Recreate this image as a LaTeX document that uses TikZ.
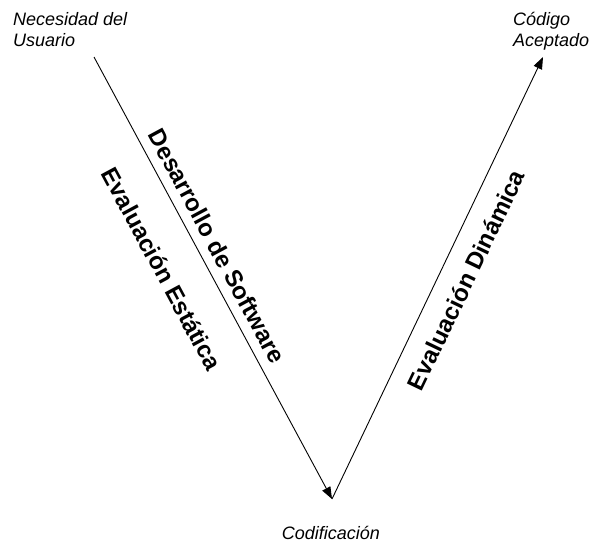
\documentclass[tikz,border=0pt]{standalone}
\usepackage{fontspec}
\setmainfont{Liberation Sans}
\usetikzlibrary{arrows.meta,calc}
\tikzstyle{etiq} = [inner sep=0pt,
                    align=left,
                    font=\fontsize{18}{21}\selectfont\itshape]
\tikzstyle{fase} = [inner sep=0pt,
                    text centered,
                    font=\fontsize{24}{26}\selectfont\bfseries]
\tikzstyle{flecha} = [line width=0.9pt,
                      -{Triangle[length=12pt,width=9pt]}]

\begin{document}
\begin{tikzpicture}[x=1pt,y=-1pt]
     \useasboundingbox (0,0) rectangle (589,542);
     % extremos de la V
     \coordinate (usr) at (94,57);
     \coordinate (cod) at (332,499);
     \coordinate (acep) at (543,57);
     \node [etiq, anchor=north west] (necesidad) at (13,12.5) {Necesidad del\\Usuario};
     \node [etiq, anchor=north west] (codigo) at (513,12.5) {Código\\Aceptado};
     \node [etiq, anchor=base] (codif) at (331,539) {Codificación};
     \draw [flecha] (usr) -- (cod);
     \draw [flecha] (cod) -- (acep);
     \node [fase, rotate=-61.7] (desarrollo) at (217,246) {Desarrollo de Software};
     \node [fase, rotate=-61.7] (estatica) at (162,269) {Evaluación Estática};
     \node [fase, rotate=64.4] (dinamica) at (466,280) {Evaluación Dinámica};
     %\node [fase] at (333,300) {V};
\end{tikzpicture}
\end{document}
